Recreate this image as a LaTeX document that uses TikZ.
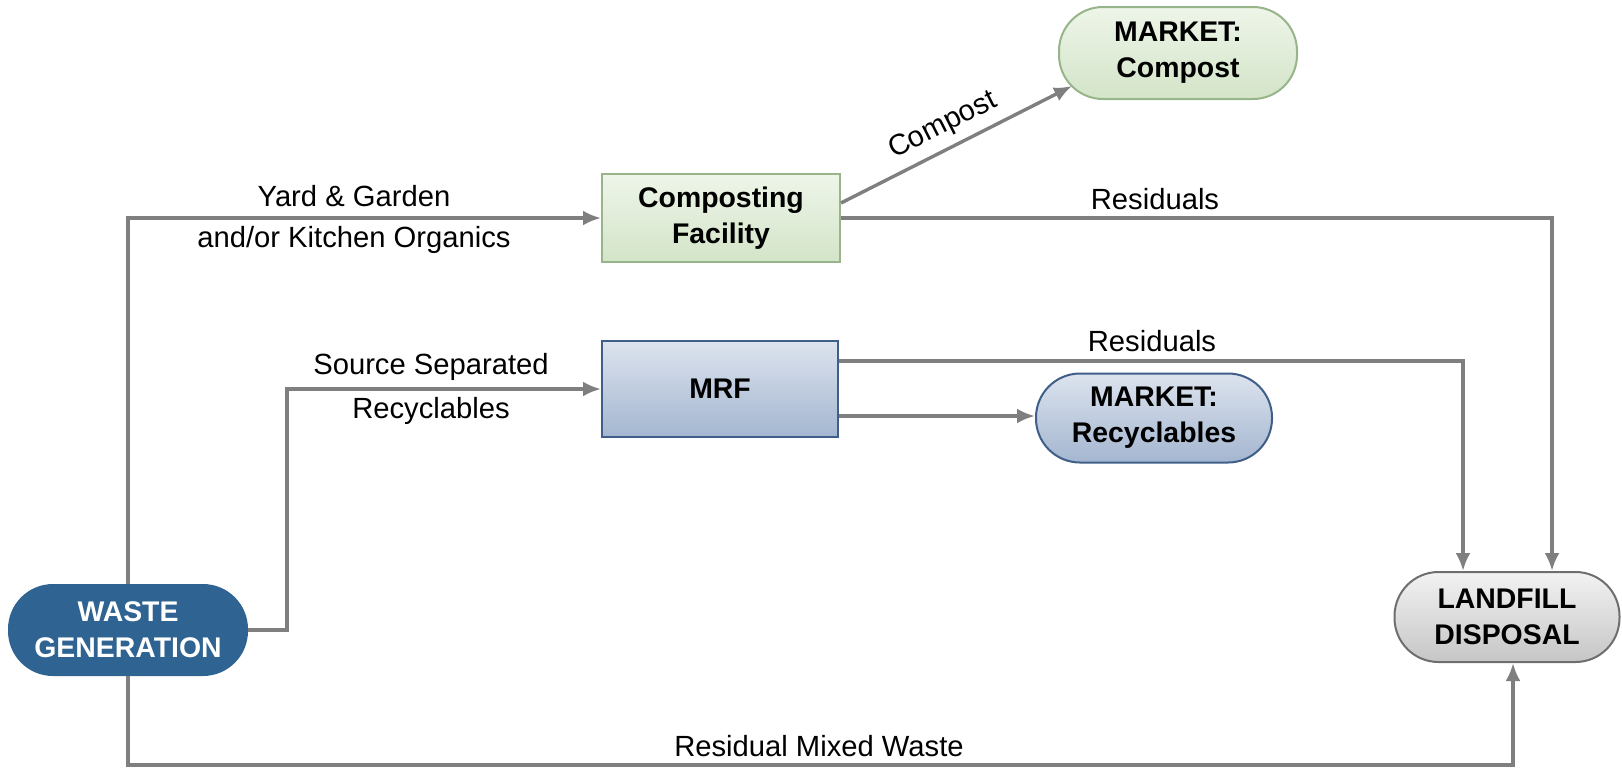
\documentclass[tikz,border=0pt]{standalone}
\usepackage{fontspec}
\setmainfont{Liberation Sans}
\usetikzlibrary{arrows.meta,calc}
\definecolor{flow}{HTML}{7F7F7F}
\definecolor{wgblue}{HTML}{2F6392}
\definecolor{greenA}{HTML}{EEF5E9}
\definecolor{greenB}{HTML}{D3E4C8}
\definecolor{greenE}{HTML}{98B48A}
\definecolor{blueA}{HTML}{DCE3EE}
\definecolor{blueB}{HTML}{A4B6D0}
\definecolor{blueE}{HTML}{3F5E88}
\definecolor{grayA}{HTML}{F2F2F2}
\definecolor{grayB}{HTML}{C6C6C6}
\definecolor{grayE}{HTML}{6E6E6E}
\tikzset{
  box/.style={draw, line width=1pt, align=center, font=\bfseries\fontsize{14.2}{18}\selectfont,
              inner sep=0pt},
  pill/.style={box, rounded corners=22pt},
  flowline/.style={draw=flow, line width=1.7pt, -{Latex[length=9pt,width=7.5pt]}},
  lbl/.style={font=\fontsize{14.6}{17}\selectfont, inner sep=0pt}
}
\begin{document}
\begin{tikzpicture}[x=0.5pt,y=-0.5pt]
\useasboundingbox (0,0) rectangle (1622,768);

% process nodes
\node[pill, fill=wgblue, draw=wgblue, text=white, minimum width=119pt, minimum height=45pt]
  (wg) at (128,630) {WASTE\\GENERATION};
\node[box, top color=greenA, bottom color=greenB, draw=greenE, minimum width=119pt, minimum height=44pt]
  (cf) at (721,218) {Composting\\Facility};
\node[pill, top color=greenA, bottom color=greenB, draw=greenE, minimum width=119pt, minimum height=46pt]
  (mc) at (1178,53) {MARKET:\\Compost};
\node[box, top color=blueA, bottom color=blueB, draw=blueE, minimum width=118pt, minimum height=48pt]
  (mrf) at (720,389) {MRF};
\node[pill, top color=blueA, bottom color=blueB, draw=blueE, minimum width=118pt, minimum height=44.5pt]
  (mr) at (1154,418) {MARKET:\\Recyclables};
\node[pill, top color=grayA, bottom color=grayB, draw=grayE, minimum width=112.5pt, minimum height=45pt]
  (lf) at (1507,617) {LANDFILL\\DISPOSAL};

% routing points
\coordinate (ss) at (287,389);
\coordinate (bot) at (128,765);
\coordinate (lfin) at ([xshift=3pt]lf.south);
\coordinate (cfres) at ([xshift=22.5pt]lf.north);
\coordinate (mrfres) at ([xshift=-22pt]lf.north);
\coordinate (mrfhi) at ([yshift=14pt]mrf.east);
\coordinate (mrflo) at ([yshift=-13.5pt]mrf.east);
\coordinate (cfup) at ([yshift=7.5pt]cf.east);
\coordinate (mcin) at ([xshift=7pt,yshift=7pt]mc.south west);

% connectors
\draw[flowline] (wg.north) |- (cf.west);
\draw[flowline] (wg.east) -| (ss) -- (mrf.west);
\draw[flowline] (wg.south) -- (wg.south |- bot) -| (lfin);
\draw[flowline] (cf.east) -| (cfres);
\draw[flowline] (mrfhi) -| (mrfres);
\draw[flowline] (mrflo) -- (mrflo -| mr.west);
\draw[flowline] (cfup) -- (mcin);

% flow labels
\node[lbl] (l1) at (354,196) {Yard \& Garden};
\node[lbl] (l2) at (354,240) {and/or Kitchen Organics};
\node[lbl] (l3) at (431,367) {Source Separated};
\node[lbl] (l4) at (431,411) {Recyclables};
\node[lbl] (l5) at (1155,199) {Residuals};
\node[lbl] (l6) at (1152,341) {Residuals};
\node[lbl] (l7) at (819,746) {Residual Mixed Waste};
\node[lbl, rotate=26.8] (l8) at (943,126) {Compost};
\end{tikzpicture}
\end{document}
